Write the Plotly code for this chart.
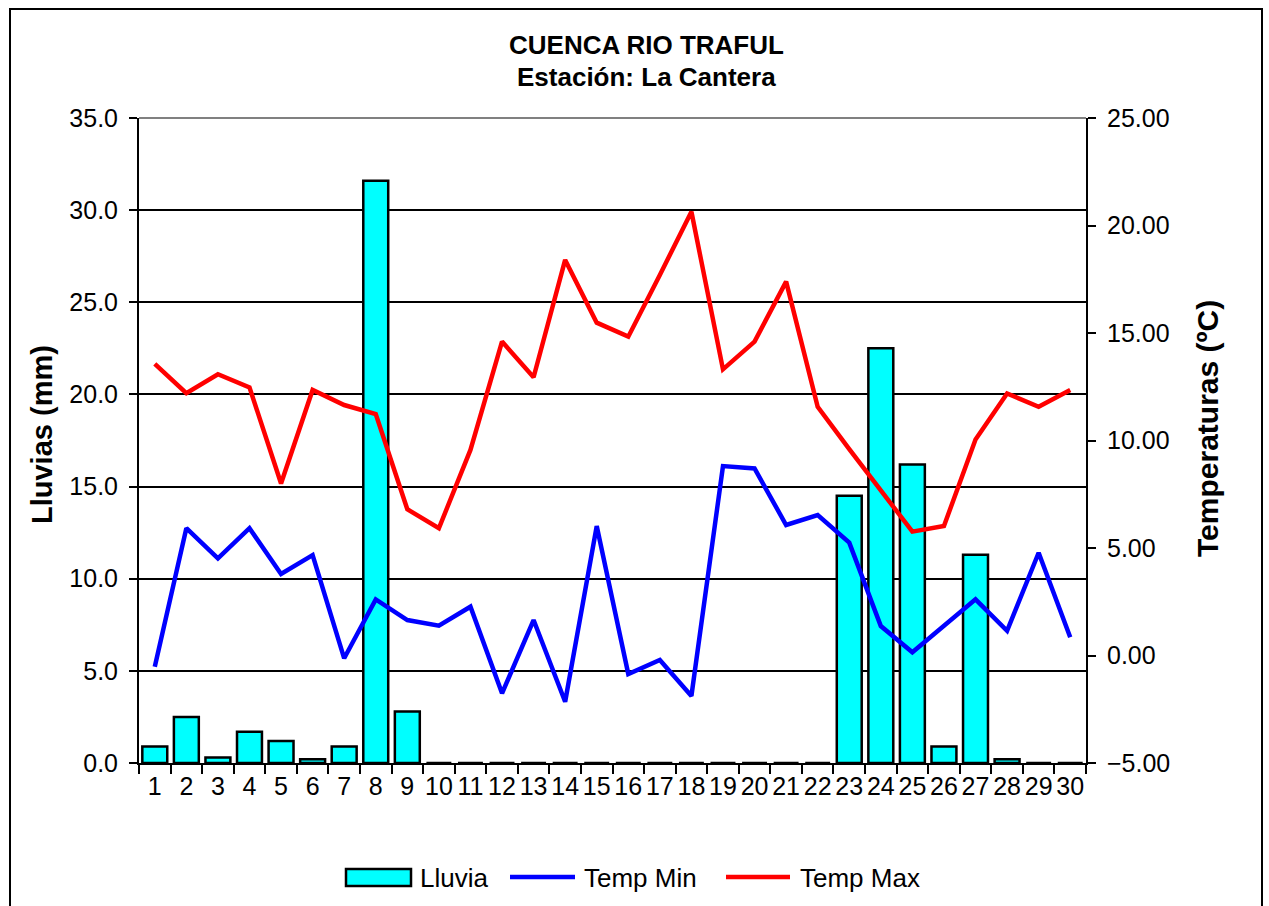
import plotly.graph_objects as go

# Daily records for the month
dias = [str(d) for d in range(1, 31)]
lluvia = [0.9, 2.5, 0.3, 1.7, 1.2, 0.2, 0.9, 31.6, 2.8, 0.0,
          0.0, 0.0, 0.0, 0.0, 0.0, 0.0, 0.0, 0.0, 0.0, 0.0,
          0.0, 0.0, 14.5, 22.5, 16.2, 0.9, 11.3, 0.2, 0.0, 0.0]
temp_min = [-0.52, 5.92, 4.52, 5.92, 3.79, 4.67, -0.13, 2.61, 1.65, 1.39,
            2.27, -1.76, 1.65, -2.15, 6.02, -0.86, -0.21, -1.88, 8.81, 8.70,
            6.07, 6.53, 5.25, 1.37, 0.15, 1.39, 2.61, 1.15, 4.78, 0.85]
temp_max = [13.56, 12.20, 13.08, 12.47, 8.00, 12.35, 11.65, 11.23, 6.80, 5.92,
            9.56, 14.60, 12.94, 18.40, 15.48, 14.83, 17.70, 20.64, 13.31, 14.60,
            17.39, 11.57, 9.60, 7.70, 5.76, 6.02, 10.05, 12.19, 11.57, 12.35]

W, H = 1269, 906
L, R, T, B = 139, 1086, 118, 763   # plot area in pixels
PW, PH = R - L, B - T


def px(x):
    return (x - L) / PW


def py(y):
    return (B - y) / PH


FONT = "Liberation Sans, Arial, sans-serif"

fig = go.Figure()
fig.add_trace(go.Bar(
    x=dias, y=lluvia, name="Lluvia",
    marker=dict(color="#00FFFF", line=dict(color="black", width=2.5)),
    yaxis="y", showlegend=False,
))
fig.add_trace(go.Scatter(
    x=dias, y=temp_min, name="Temp Min", mode="lines",
    line=dict(color="#0000FF", width=4.5), yaxis="y2", showlegend=False,
))
fig.add_trace(go.Scatter(
    x=dias, y=temp_max, name="Temp Max", mode="lines",
    line=dict(color="#FF0000", width=4.5), yaxis="y2", showlegend=False,
))

shapes = [
    # outer chart frame
    dict(type="rect", xref="paper", yref="paper",
         x0=px(10), x1=px(1262), y0=py(915), y1=py(9),
         line=dict(color="black", width=2), fillcolor="rgba(0,0,0,0)", layer="below"),
    # top edge of plot area
    dict(type="line", xref="paper", yref="paper",
         x0=0, x1=1, y0=1, y1=1, line=dict(color="#808080", width=2)),
    # legend keys
    dict(type="rect", xref="paper", yref="paper",
         x0=px(346), x1=px(411), y0=py(886), y1=py(869),
         line=dict(color="black", width=2.5), fillcolor="#00FFFF"),
    dict(type="line", xref="paper", yref="paper",
         x0=px(510), x1=px(575), y0=py(877), y1=py(877),
         line=dict(color="#0000FF", width=4.5)),
    dict(type="line", xref="paper", yref="paper",
         x0=px(726), x1=px(790), y0=py(877), y1=py(877),
         line=dict(color="#FF0000", width=4.5)),
]

annotations = [
    dict(text="<b>CUENCA RIO TRAFUL</b>", x=px(646), y=py(45), xref="paper", yref="paper",
         showarrow=False, font=dict(family=FONT, size=26, color="black"),
         xanchor="center", yanchor="middle"),
    dict(text="<b>Estación: La Cantera</b>", x=px(646), y=py(77), xref="paper", yref="paper",
         showarrow=False, font=dict(family=FONT, size=26, color="black"),
         xanchor="center", yanchor="middle"),
    dict(text="<b>Lluvias (mm)</b>", x=px(42), y=py(435), xref="paper", yref="paper",
         showarrow=False, textangle=-90, font=dict(family=FONT, size=29, color="black"),
         xanchor="center", yanchor="middle"),
    dict(text="<b>Temperaturas (ºC)</b>", x=px(1207), y=py(429), xref="paper", yref="paper",
         showarrow=False, textangle=-90, font=dict(family=FONT, size=30, color="black"),
         xanchor="center", yanchor="middle"),
    dict(text="Lluvia", x=px(418), y=py(878), xref="paper", yref="paper",
         showarrow=False, font=dict(family=FONT, size=26, color="black"),
         xanchor="left", yanchor="middle"),
    dict(text="Temp Min", x=px(582), y=py(878), xref="paper", yref="paper",
         showarrow=False, font=dict(family=FONT, size=26, color="black"),
         xanchor="left", yanchor="middle"),
    dict(text="Temp Max", x=px(798), y=py(878), xref="paper", yref="paper",
         showarrow=False, font=dict(family=FONT, size=26, color="black"),
         xanchor="left", yanchor="middle"),
]

fig.update_layout(
    width=W, height=H,
    margin=dict(l=L, r=W - R, t=T, b=H - B, pad=0),
    paper_bgcolor="white", plot_bgcolor="white",
    font=dict(family=FONT, size=24, color="black"),
    bargap=0.21,
    showlegend=False,
    xaxis=dict(
        type="category", showgrid=False, showline=True, linecolor="black", linewidth=2,
        ticks="outside", tickson="boundaries", ticklen=9, tickwidth=2, tickcolor="black",
        tickangle=0, tickfont=dict(family=FONT, size=25), zeroline=False,
    ),
    yaxis=dict(
        range=[0, 35], tick0=0, dtick=5, tickformat=".1f",
        showgrid=True, gridcolor="black", gridwidth=2,
        showline=True, linecolor="black", linewidth=2,
        ticks="outside", ticklen=8, tickwidth=2, tickcolor="black",
        ticklabelstandoff=6, tickfont=dict(family=FONT, size=25), zeroline=False,
    ),
    yaxis2=dict(
        range=[-5, 25], tick0=-5, dtick=5, tickformat=".2f",
        overlaying="y", side="right", showgrid=False,
        showline=True, linecolor="black", linewidth=2,
        ticks="outside", ticklen=8, tickwidth=2, tickcolor="black",
        ticklabelstandoff=6, tickfont=dict(family=FONT, size=25), zeroline=False,
    ),
    shapes=shapes,
    annotations=annotations,
)

fig.write_html("out.html")
